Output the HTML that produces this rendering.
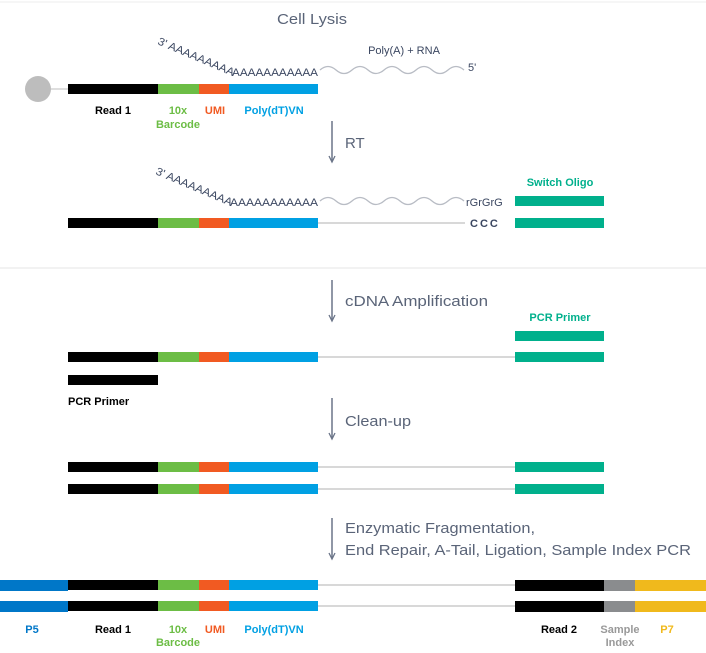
<!DOCTYPE html>
<html><head><meta charset="utf-8"><style>
html,body{margin:0;padding:0;background:#fff;}
svg{display:block;font-family:"Liberation Sans",sans-serif;}
.l{font-size:11px;font-weight:bold;}
.s{font-size:15px;fill:#5a6478;}
.a{font-size:11px;fill:#3a4660;}
</style></head><body>
<svg width="706" height="653" viewBox="0 0 706 653" xmlns="http://www.w3.org/2000/svg">
<defs>
<g id="probe">
<rect x="68" y="0" width="90" height="10" fill="#000"/>
<rect x="158" y="0" width="41" height="10" fill="#6cbd45"/>
<rect x="199" y="0" width="30" height="10" fill="#f15a22"/>
<rect x="229" y="0" width="89" height="10" fill="#00a0e3"/>
</g>
<g id="arrow"><line x1="0" y1="0" x2="0" y2="40" stroke="#6a7488" stroke-width="1.5"/><path d="M-3,35 L0,41 L3,35" fill="none" stroke="#6a7488" stroke-width="1.3"/></g>
<path id="wave" d="M0,0 q8,-7 16,0 t16,0 t16,0 t16,0 t16,0 t16,0 t16,0 t16,0 t16,0" fill="none" stroke="#b8bcc4" stroke-width="1.3"/>
</defs>
<line x1="0" y1="2" x2="706" y2="2" stroke="#eee"/>
<line x1="0" y1="268" x2="706" y2="268" stroke="#e4e4e4"/>

<text x="312" y="24" class="s" text-anchor="middle" font-size="16" textLength="70" lengthAdjust="spacingAndGlyphs" style="text-anchor:start" dx="-35">Cell Lysis</text>
<circle cx="38" cy="89" r="13" fill="#bdbdbd"/>
<line x1="50" y1="89" x2="68" y2="89" stroke="#bdbdbd"/>
<use href="#probe" y="84"/>
<text x="157" y="44" class="a" transform="rotate(23 157 44)" textLength="82" lengthAdjust="spacingAndGlyphs">3' AAAAAAAAA</text>
<text x="232" y="76" class="a" textLength="86" lengthAdjust="spacingAndGlyphs">AAAAAAAAAAA</text>
<use href="#wave" x="320" y="70"/>
<text x="404" y="54" class="a" text-anchor="middle">Poly(A) + RNA</text>
<text x="468" y="71" class="a">5'</text>
<text x="113" y="114" class="l" text-anchor="middle" fill="#000">Read 1</text>
<text x="178" y="114" class="l" text-anchor="middle" fill="#6cbd45">10x</text>
<text x="178" y="128" class="l" text-anchor="middle" fill="#6cbd45">Barcode</text>
<text x="215" y="114" class="l" text-anchor="middle" fill="#f15a22">UMI</text>
<text x="274" y="114" class="l" text-anchor="middle" fill="#00a0e3">Poly(dT)VN</text>

<use href="#arrow" x="332" y="121"/>
<text x="345" y="148" class="s" font-size="16">RT</text>

<text x="155" y="174" class="a" transform="rotate(23 155 174)" textLength="82" lengthAdjust="spacingAndGlyphs">3' AAAAAAAAA</text>
<text x="230" y="206" class="a" textLength="88" lengthAdjust="spacingAndGlyphs">AAAAAAAAAAA</text>
<use href="#wave" x="320" y="201"/>
<text x="466" y="206" class="a">rGrGrG</text>
<text x="560" y="186" class="l" text-anchor="middle" fill="#00b08c">Switch Oligo</text>
<rect x="515" y="196" width="89" height="10" fill="#00b08c"/>
<use href="#probe" y="218"/>
<line x1="318" y1="223" x2="465" y2="223" stroke="#ccc" stroke-width="1.5"/>
<text x="470" y="227" class="a" font-weight="bold" letter-spacing="2">CCC</text>
<rect x="515" y="218" width="89" height="10" fill="#00b08c"/>

<use href="#arrow" x="332" y="280"/>
<text x="345" y="306" class="s" textLength="143" lengthAdjust="spacingAndGlyphs">cDNA Amplification</text>
<text x="560" y="321" class="l" text-anchor="middle" fill="#00b08c">PCR Primer</text>
<rect x="515" y="331" width="89" height="10" fill="#00b08c"/>
<use href="#probe" y="352"/>
<line x1="318" y1="357" x2="515" y2="357" stroke="#ccc" stroke-width="1.5"/>
<rect x="515" y="352" width="89" height="10" fill="#00b08c"/>
<rect x="68" y="375" width="90" height="10" fill="#000"/>
<text x="68" y="405" class="l" fill="#000">PCR Primer</text>

<use href="#arrow" x="332" y="398"/>
<text x="345" y="426" class="s" textLength="66" lengthAdjust="spacingAndGlyphs">Clean-up</text>
<use href="#probe" y="462"/>
<line x1="318" y1="467" x2="515" y2="467" stroke="#ccc" stroke-width="1.5"/>
<rect x="515" y="462" width="89" height="10" fill="#00b08c"/>
<use href="#probe" y="484"/>
<line x1="318" y1="489" x2="515" y2="489" stroke="#ccc" stroke-width="1.5"/>
<rect x="515" y="484" width="89" height="10" fill="#00b08c"/>

<use href="#arrow" x="332" y="518"/>
<text x="345" y="533" class="s" textLength="190" lengthAdjust="spacingAndGlyphs">Enzymatic Fragmentation,</text>
<text x="345" y="555" class="s" textLength="346" lengthAdjust="spacingAndGlyphs">End Repair, A-Tail, Ligation, Sample Index PCR</text>

<g>
<rect x="0" y="580" width="68" height="11" fill="#0077c8"/>
<use href="#probe" y="580"/>
<line x1="318" y1="585" x2="515" y2="585" stroke="#ccc" stroke-width="1.5"/>
<rect x="515" y="580" width="89" height="11" fill="#000"/>
<rect x="604" y="580" width="31" height="11" fill="#8a8c8e"/>
<rect x="635" y="580" width="71" height="11" fill="#f0b91c"/>
<rect x="0" y="601" width="68" height="11" fill="#0077c8"/>
<use href="#probe" y="601"/>
<line x1="318" y1="606" x2="515" y2="606" stroke="#ccc" stroke-width="1.5"/>
<rect x="515" y="601" width="89" height="11" fill="#000"/>
<rect x="604" y="601" width="31" height="11" fill="#8a8c8e"/>
<rect x="635" y="601" width="71" height="11" fill="#f0b91c"/>
</g>
<text x="32" y="633" class="l" text-anchor="middle" fill="#0077c8">P5</text>
<text x="113" y="633" class="l" text-anchor="middle" fill="#000">Read 1</text>
<text x="178" y="633" class="l" text-anchor="middle" fill="#6cbd45">10x</text>
<text x="178" y="646" class="l" text-anchor="middle" fill="#6cbd45">Barcode</text>
<text x="215" y="633" class="l" text-anchor="middle" fill="#f15a22">UMI</text>
<text x="274" y="633" class="l" text-anchor="middle" fill="#00a0e3">Poly(dT)VN</text>
<text x="559" y="633" class="l" text-anchor="middle" fill="#000">Read 2</text>
<text x="620" y="633" class="l" text-anchor="middle" fill="#999">Sample</text>
<text x="620" y="646" class="l" text-anchor="middle" fill="#999">Index</text>
<text x="667" y="633" class="l" text-anchor="middle" fill="#f0b91c">P7</text>
</svg>
</body></html>
